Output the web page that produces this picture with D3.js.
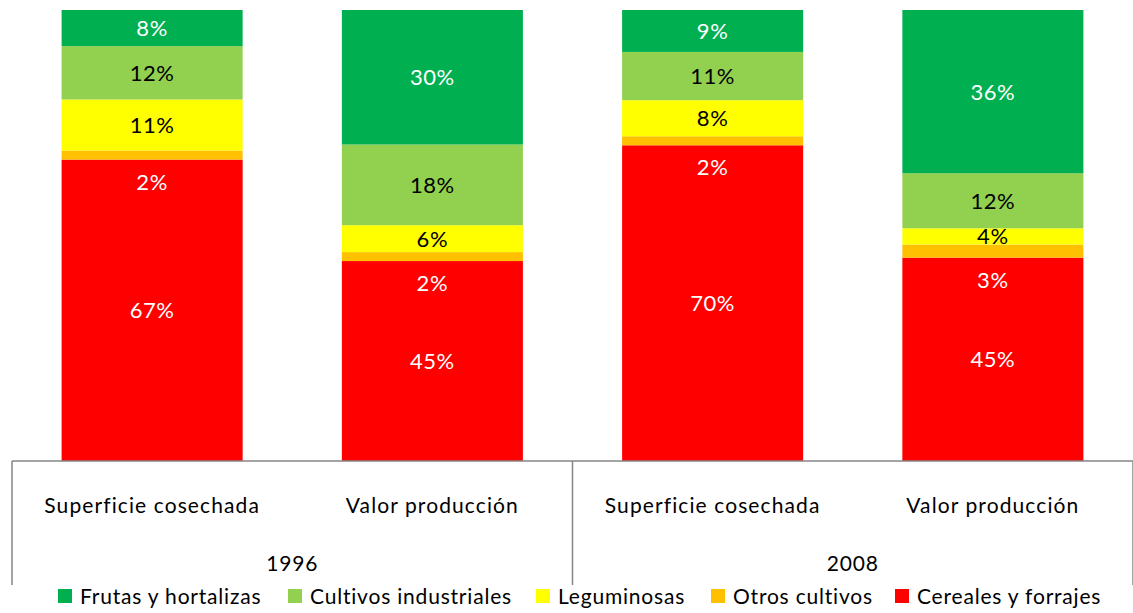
<!DOCTYPE html>
<html>
<head>
<meta charset="utf-8">
<script src="https://cdn.jsdelivr.net/npm/d3@7"></script>
<style>
  body { margin: 0; background: #fff; }
  text { font-family: Lato, "Open Sans", sans-serif; }
</style>
</head>
<body>
<svg id="chart" width="1133" height="613"></svg>
<script>
// categories
const years = ["1996", "2008"];
const measures = ["Superficie cosechada", "Valor producción"];
const seriesNames = ["Cereales y forrajes", "Otros cultivos", "Leguminosas", "Cultivos industriales", "Frutas y hortalizas"];
const legendOrder = ["Frutas y hortalizas", "Cultivos industriales", "Leguminosas", "Otros cultivos", "Cereales y forrajes"];

// values per bar: 1996 sup, 1996 valor, 2008 sup, 2008 valor
const frutas = [8.0, 30.0, 9.3, 36.2];
const cultivos = [11.8, 18.0, 10.7, 12.2];
const leguminosas = [11.3, 6.0, 8.0, 3.6];
const otros = [2.0, 2.0, 2.0, 2.9];
const cereales = [66.7, 44.6, 70.0, 45.1];

const colors = {
    "Frutas y hortalizas": "#00B050",
    "Cultivos industriales": "#92D050",
    "Leguminosas": "#FFFF00",
    "Otros cultivos": "#FFC000",
    "Cereales y forrajes": "#FF0000"
};
const labelColors = {
    "Frutas y hortalizas": "#fff",
    "Cultivos industriales": "#000",
    "Leguminosas": "#000",
    "Otros cultivos": "#fff",
    "Cereales y forrajes": "#fff"
};

let bars = [];
years.forEach(function (yr, gi) {
    measures.forEach(function (m, mi) {
        let i = gi * 2 + mi;
        bars.push({
            key: yr + "|" + m, year: yr, measure: m,
            "Frutas y hortalizas": frutas[i],
            "Cultivos industriales": cultivos[i],
            "Leguminosas": leguminosas[i],
            "Otros cultivos": otros[i],
            "Cereales y forrajes": cereales[i]
        });
    });
});

let svg = d3.select("#chart");
let plotLeft = 12, plotRight = 1133, plotTop = 10, plotBottom = 461;

let x = d3.scaleBand()
    .domain(bars.map(d => d.key))
    .range([plotLeft, plotRight])
    .paddingInner(0.354)
    .paddingOuter(0.177);

let y = d3.scaleLinear().domain([0, 1]).range([plotBottom, plotTop]);

let stack = d3.stack()
    .keys(seriesNames)
    .offset(d3.stackOffsetExpand);
let stacked = stack(bars);

// bars
let layers = svg.append("g")
    .selectAll("g")
    .data(stacked)
    .join("g")
    .attr("fill", d => colors[d.key]);

layers.selectAll("rect")
    .data(d => d)
    .join("rect")
    .attr("x", d => x(d.data.key))
    .attr("width", x.bandwidth())
    .attr("y", d => y(d[1]))
    .attr("height", d => y(d[0]) - y(d[1]));

// labels
let labels = svg.append("g");
stacked.forEach(function (layer) {
    layer.forEach(function (d) {
        let name = layer.key;
        let cy = (y(d[0]) + y(d[1])) / 2;
        if (name == "Otros cultivos") {
            // excel put these just below the thin slice
            cy = y(d[0]) + 22;
        }
        labels.append("text")
            .attr("x", x(d.data.key) + x.bandwidth() / 2)
            .attr("y", cy)
            .attr("dy", "0.36em")
            .attr("text-anchor", "middle")
            .style("font-size", "22px")
            .style("letter-spacing", "0.6px")
            .attr("fill", labelColors[name])
            .text(Math.round(d.data[name]) + "%");
    });
});

// category axis
let axis = svg.append("g");
axis.append("line")
    .attr("x1", plotLeft).attr("x2", plotRight)
    .attr("y1", plotBottom).attr("y2", plotBottom)
    .attr("stroke", "#868686").attr("stroke-width", 1.5);

let groupEdges = [plotLeft, x(bars[2].key) - x.step() * x.paddingInner() / 2, plotRight];
groupEdges.forEach(function (gx) {
    axis.append("line")
        .attr("x1", gx).attr("x2", gx)
        .attr("y1", plotBottom).attr("y2", 585)
        .attr("stroke", "#868686").attr("stroke-width", 1.5);
});

bars.forEach(function (d) {
    axis.append("text")
        .attr("x", x(d.key) + x.bandwidth() / 2)
        .attr("y", 505)
        .attr("dy", "0.36em")
        .attr("text-anchor", "middle")
        .style("font-size", "21px")
        .style("letter-spacing", "1.1px")
        .attr("fill", "#000")
        .text(d.measure);
});

years.forEach(function (yr, gi) {
    axis.append("text")
        .attr("x", (groupEdges[gi] + groupEdges[gi + 1]) / 2)
        .attr("y", 563)
        .attr("dy", "0.36em")
        .attr("text-anchor", "middle")
        .style("font-size", "21px")
        .style("letter-spacing", "0.8px")
        .attr("fill", "#000")
        .text(yr);
});

// legend
let legend = svg.append("g");
let legendX = [58, 288, 536, 711, 895];
legendOrder.forEach(function (name, i) {
    legend.append("rect")
        .attr("x", legendX[i]).attr("y", 589)
        .attr("width", 14).attr("height", 14)
        .attr("fill", colors[name]);
    legend.append("text")
        .attr("x", legendX[i] + 22)
        .attr("y", 596)
        .attr("dy", "0.36em")
        .style("font-size", "21px")
        .style("letter-spacing", "0.8px")
        .attr("fill", "#000")
        .text(name);
});
</script>
</body>
</html>
